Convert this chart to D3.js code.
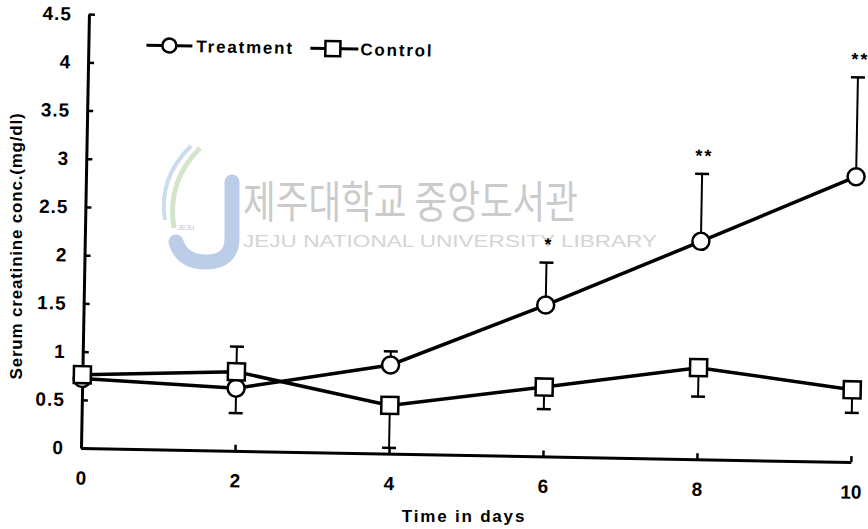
<!DOCTYPE html>
<html>
<head>
<meta charset="utf-8">
<script src="https://cdn.jsdelivr.net/npm/d3@7"></script>
<style>
  body { margin: 0; background: #fff; }
  svg { display: block; font-family: "Liberation Sans", Arial, sans-serif; }
</style>
</head>
<body>
<svg id="chart" width="868" height="529"></svg>
<script>
// data
var days = [0, 2, 4, 6, 8, 10];
var treatment = [0.72, 0.65, 0.92, 1.57, 2.26, 2.96];
var treatmentErrUp = [0, 0, 0.14, 0.44, 0.70, 1.03];
var treatmentErrDown = [0, 0.26, 0, 0, 0, 0];
var control = [0.76, 0.82, 0.50, 0.72, 0.95, 0.75];
var controlErrUp = [0, 0.26, 0, 0, 0, 0];
var controlErrDown = [0, 0, 0.44, 0.23, 0.30, 0.24];
var significance = ["", "", "", "*", "**", "**"];
var yTicks = [0, 0.5, 1, 1.5, 2, 2.5, 3, 3.5, 4, 4.5];
var xTicks = [0, 2, 4, 6, 8, 10];

var svg = d3.select("#chart");

// watermark of the library scan (not rotated)
var wm = svg.append("g");
wm.append("path")
  .attr("d", "M232,182 L232,238 Q232,262 206,262 Q182,262 176,242")
  .attr("fill", "none").attr("stroke", "#bccde7").attr("stroke-width", 15)
  .attr("stroke-linecap", "round");
wm.append("path")
  .attr("d", "M200,148 Q166,182 174,228")
  .attr("fill", "none").attr("stroke", "#d3e6cc").attr("stroke-width", 5);
wm.append("path")
  .attr("d", "M191,146 Q158,178 165,220")
  .attr("fill", "none").attr("stroke", "#cbdcef").attr("stroke-width", 4);
wm.append("text")
  .attr("x", 186).attr("y", 230).attr("text-anchor", "middle")
  .attr("font-size", 7).attr("fill", "#c4c4c4")
  .text("JEJU");
wm.append("text")
  .attr("x", 243).attr("y", 218)
  .attr("font-family", "'Noto Sans CJK KR', sans-serif")
  .attr("font-size", 44).attr("fill", "#cbcbcb")
  .attr("textLength", 335).attr("lengthAdjust", "spacingAndGlyphs")
  .text("제주대학교 중앙도서관");
wm.append("text")
  .attr("x", 243).attr("y", 247)
  .attr("font-size", 17).attr("fill", "#d4d4d4")
  .attr("textLength", 414).attr("lengthAdjust", "spacingAndGlyphs")
  .text("JEJU NATIONAL UNIVERSITY LIBRARY");

// the scan is slightly rotated, so the whole plot frame is too
var g = svg.append("g")
  .attr("transform", "translate(81,448) rotate(1.05)");

var x = d3.scaleLinear().domain([0, 10]).range([0, 770]);
var y = d3.scaleLinear().domain([0, 4.5]).range([0, -434]);

var yAxis = g.append("g")
  .call(d3.axisLeft(y).tickValues(yTicks).tickSize(-6).tickSizeOuter(0).tickPadding(17)
    .tickFormat(function(d) { return d; }));
var xAxis = g.append("g")
  .call(d3.axisBottom(x).tickValues(xTicks).tickSize(-6).tickSizeOuter(0).tickPadding(23)
    .tickFormat(function(d) { return d; }));

[yAxis, xAxis].forEach(function(a) {
  a.select(".domain").attr("stroke", "#000").attr("stroke-width", 3);
  a.selectAll(".tick line").attr("stroke", "#000").attr("stroke-width", 2.5);
  a.selectAll(".tick text")
    .attr("fill", "#000").style("font-size", "19px").style("font-weight", "bold")
    .style("font-family", "'Liberation Sans', Arial, sans-serif");
});
yAxis.selectAll(".tick text").attr("letter-spacing", 1);

var line = d3.line()
  .x(function(d, i) { return x(days[i]); })
  .y(function(d) { return y(d); });

function drawErrors(values, up, down) {
  var eg = g.append("g").attr("stroke", "#000").attr("stroke-width", 2);
  values.forEach(function(v, i) {
    var cx = x(days[i]);
    [[up[i], 1], [down[i], -1]].forEach(function(e) {
      if (e[0] <= 0) return;
      var end = v + e[1] * e[0];
      eg.append("line").attr("x1", cx).attr("x2", cx).attr("y1", y(v)).attr("y2", y(end));
      eg.append("line").attr("x1", cx - 7).attr("x2", cx + 7).attr("y1", y(end)).attr("y2", y(end))
        .attr("stroke-width", 2.5);
    });
  });
}

drawErrors(control, controlErrUp, controlErrDown);
drawErrors(treatment, treatmentErrUp, treatmentErrDown);

g.append("path").datum(control).attr("d", line)
  .attr("fill", "none").attr("stroke", "#000").attr("stroke-width", 3.5);
g.append("path").datum(treatment).attr("d", line)
  .attr("fill", "none").attr("stroke", "#000").attr("stroke-width", 3.5);

g.selectAll(".circ").data(treatment).enter().append("circle")
  .attr("cx", function(d, i) { return x(days[i]); })
  .attr("cy", function(d) { return y(d); })
  .attr("r", 8.5).attr("fill", "#fff").attr("stroke", "#000").attr("stroke-width", 2.5);

g.selectAll(".sq").data(control).enter().append("rect")
  .attr("x", function(d, i) { return x(days[i]) - 8.5; })
  .attr("y", function(d) { return y(d) - 8.5; })
  .attr("width", 17).attr("height", 17)
  .attr("fill", "#fff").attr("stroke", "#000").attr("stroke-width", 2.5);

// significance stars above the treatment error bars
g.selectAll(".sig").data(significance).enter().append("text")
  .attr("x", function(d, i) { return x(days[i]) + 2; })
  .attr("y", function(d, i) { return y(treatment[i] + treatmentErrUp[i]) - 12; })
  .attr("text-anchor", "middle").attr("font-size", 18).attr("font-weight", "bold")
  .attr("letter-spacing", 2)
  .text(function(d) { return d; });

// legend
var legend = g.append("g").attr("transform", "translate(58,-404)")
  .attr("font-size", 17).attr("font-weight", "bold").attr("letter-spacing", 1.8);
legend.append("line").attr("x1", 0).attr("x2", 46).attr("stroke", "#000").attr("stroke-width", 3);
legend.append("circle").attr("cx", 23).attr("r", 7).attr("fill", "#fff")
  .attr("stroke", "#000").attr("stroke-width", 2.5);
legend.append("text").attr("x", 50).attr("dy", "0.36em").text("Treatment");
legend.append("line").attr("x1", 164).attr("x2", 212).attr("stroke", "#000").attr("stroke-width", 3);
legend.append("rect").attr("x", 179).attr("y", -7.5).attr("width", 15).attr("height", 15)
  .attr("fill", "#fff").attr("stroke", "#000").attr("stroke-width", 2.5);
legend.append("text").attr("x", 214).attr("dy", "0.36em").text("Control");

// axis titles
svg.append("text")
  .attr("x", 464).attr("y", 522)
  .attr("text-anchor", "middle").attr("font-size", 17).attr("font-weight", "bold")
  .attr("letter-spacing", 1.8)
  .text("Time in days");
svg.append("text")
  .attr("transform", "translate(22,246) rotate(-90)")
  .attr("text-anchor", "middle").attr("font-size", 17).attr("font-weight", "bold")
  .attr("letter-spacing", 0.8)
  .text("Serum creatinine conc.(mg/dl)");
</script>
</body>
</html>
